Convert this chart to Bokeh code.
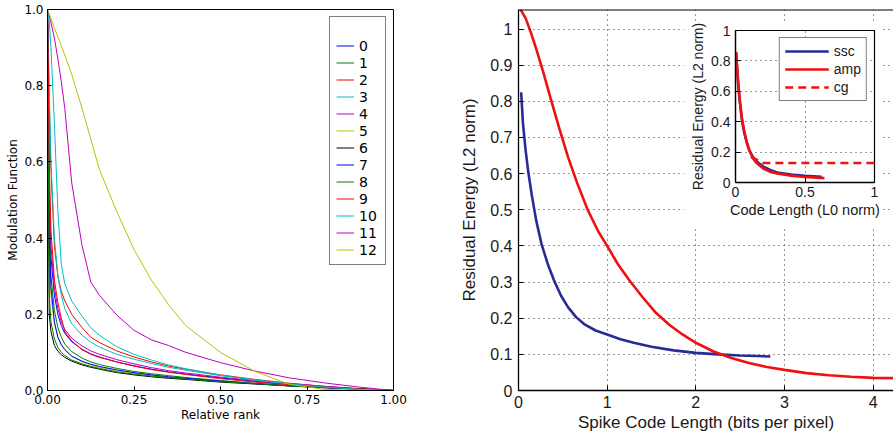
from bokeh.plotting import figure
from bokeh.models import Range1d, FixedTicker, Row, Span, PrintfTickFormatter
from bokeh.embed import file_html
from bokeh.resources import INLINE

# ---------------- left panel data ----------------
RANK_X = [0, 0.005, 0.01, 0.02, 0.03, 0.04, 0.05, 0.07, 0.1, 0.125, 0.15, 0.2,
          0.25, 0.3, 0.35, 0.4, 0.5, 0.6, 0.7, 0.8, 0.9, 1.0]
MOD_0 = [1.0, 0.5, 0.35, 0.25, 0.2, 0.17, 0.15, 0.128, 0.108, 0.096, 0.088, 0.075, 0.065, 0.056, 0.049, 0.043, 0.033, 0.024, 0.016, 0.01, 0.004, 0.0]
MOD_1 = [1.0, 0.45, 0.3, 0.21, 0.165, 0.14, 0.122, 0.102, 0.085, 0.075, 0.068, 0.058, 0.05, 0.044, 0.039, 0.034, 0.026, 0.019, 0.013, 0.008, 0.003, 0.0]
MOD_2 = [1.0, 0.75, 0.58, 0.38, 0.3, 0.26, 0.235, 0.2, 0.165, 0.14, 0.126, 0.104, 0.088, 0.075, 0.064, 0.056, 0.041, 0.029, 0.019, 0.011, 0.004, 0.0]
MOD_3 = [1.0, 0.8, 0.6, 0.4, 0.3, 0.25, 0.215, 0.175, 0.145, 0.127, 0.114, 0.095, 0.082, 0.071, 0.061, 0.053, 0.039, 0.028, 0.018, 0.01, 0.004, 0.0]
MOD_4 = [1.0, 0.55, 0.38, 0.27, 0.215, 0.18, 0.16, 0.137, 0.117, 0.104, 0.095, 0.081, 0.07, 0.06, 0.052, 0.046, 0.035, 0.026, 0.018, 0.011, 0.005, 0.0]
MOD_5 = [1.0, 0.35, 0.25, 0.175, 0.14, 0.12, 0.108, 0.09, 0.075, 0.067, 0.061, 0.052, 0.045, 0.04, 0.035, 0.031, 0.024, 0.018, 0.012, 0.007, 0.003, 0.0]
MOD_6 = [1.0, 0.2, 0.155, 0.118, 0.103, 0.094, 0.087, 0.077, 0.067, 0.061, 0.056, 0.047, 0.041, 0.036, 0.032, 0.029, 0.022, 0.017, 0.012, 0.008, 0.004, 0.0]
MOD_7 = [1.0, 0.4, 0.27, 0.18, 0.14, 0.12, 0.107, 0.09, 0.077, 0.069, 0.063, 0.054, 0.047, 0.041, 0.036, 0.032, 0.025, 0.018, 0.012, 0.007, 0.003, 0.0]
MOD_8 = [1.0, 0.25, 0.18, 0.135, 0.113, 0.1, 0.092, 0.08, 0.07, 0.063, 0.058, 0.049, 0.043, 0.038, 0.034, 0.03, 0.023, 0.018, 0.012, 0.008, 0.004, 0.0]
MOD_9 = [1.0, 0.6, 0.42, 0.29, 0.23, 0.19, 0.155, 0.13, 0.107, 0.095, 0.087, 0.075, 0.064, 0.055, 0.048, 0.042, 0.031, 0.022, 0.015, 0.009, 0.004, 0.0]
MOD_10 = [1.0, 0.97, 0.9, 0.7, 0.47, 0.33, 0.28, 0.235, 0.195, 0.165, 0.145, 0.115, 0.095, 0.08, 0.067, 0.057, 0.04, 0.027, 0.017, 0.009, 0.003, 0.0]
MOD_11 = [1.0, 0.985, 0.965, 0.925, 0.87, 0.81, 0.74, 0.545, 0.38, 0.285, 0.25, 0.198, 0.158, 0.133, 0.118, 0.1, 0.073, 0.051, 0.033, 0.02, 0.009, 0.0]
MOD_12 = [1.0, 0.988, 0.976, 0.952, 0.928, 0.905, 0.88, 0.83, 0.74, 0.66, 0.58, 0.47, 0.37, 0.29, 0.225, 0.17, 0.1, 0.05, 0.016, 0.003, 0.001, 0.0]
MOD_SERIES = [MOD_0, MOD_1, MOD_2, MOD_3, MOD_4, MOD_5, MOD_6, MOD_7, MOD_8,
              MOD_9, MOD_10, MOD_11, MOD_12]
MOD_LABELS = ["0", "1", "2", "3", "4", "5", "6", "7", "8", "9", "10", "11", "12"]
MOD_COLORS = ["#0000ff", "#008000", "#ff0000", "#00bfbf", "#bf00bf", "#bfbf00", "#000000",
              "#0000ff", "#008000", "#ff0000", "#00bfbf", "#bf00bf", "#bfbf00"]
REL_TICKS = [0, 0.25, 0.5, 0.75, 1.0]
MODF_TICKS = [0, 0.2, 0.4, 0.6, 0.8, 1.0]

# ---------------- right panel data ----------------
SSC_X = [0.03, 0.05, 0.08, 0.11, 0.15, 0.2, 0.26, 0.33, 0.4, 0.48, 0.56, 0.65, 0.75,
         0.87, 1.0, 1.15, 1.3, 1.5, 1.75, 2.0, 2.25, 2.5, 2.84]
SSC_Y = [0.825, 0.74, 0.665, 0.605, 0.54, 0.47, 0.405, 0.35, 0.305, 0.262, 0.23, 0.203,
         0.182, 0.166, 0.155, 0.142, 0.132, 0.121, 0.111, 0.104, 0.1, 0.097, 0.094]
AMP_X = [0.02, 0.08, 0.14, 0.2, 0.28, 0.36, 0.46, 0.56, 0.66, 0.78, 0.9, 1.0, 1.12,
         1.25, 1.4, 1.55, 1.7, 1.85, 2.0, 2.2, 2.4, 2.6, 2.8, 3.0, 3.25, 3.5, 3.75,
         4.0, 4.3]
AMP_Y = [1.055, 1.03, 0.99, 0.945, 0.88, 0.81, 0.725, 0.645, 0.575, 0.50, 0.44, 0.40,
         0.35, 0.305, 0.258, 0.215, 0.182, 0.155, 0.132, 0.108, 0.09, 0.076, 0.065,
         0.057, 0.048, 0.042, 0.038, 0.035, 0.034]
BPP_TICKS = [0, 1, 2, 3, 4]
RES_TICKS = [0, 0.1, 0.2, 0.3, 0.4, 0.5, 0.6, 0.7, 0.8, 0.9, 1.0]
BPP_MAX = 4.23
RES_MAX = 1.054

# ---------------- inset data ----------------
IN_X = [0.005, 0.01, 0.02, 0.03, 0.045, 0.06, 0.08, 0.1, 0.125, 0.15, 0.2, 0.25,
        0.3, 0.4, 0.5, 0.64]
IN_AMP = [0.86, 0.78, 0.65, 0.55, 0.43, 0.35, 0.27, 0.21, 0.16, 0.13, 0.092, 0.07,
          0.06, 0.045, 0.036, 0.029]
IN_SSC_X = [0.005, 0.01, 0.02, 0.03, 0.045, 0.06, 0.08, 0.1, 0.125, 0.15, 0.2, 0.25,
            0.3, 0.4, 0.5, 0.62]
IN_SSC = [0.85, 0.77, 0.64, 0.54, 0.42, 0.34, 0.265, 0.21, 0.168, 0.14, 0.105, 0.082,
          0.066, 0.052, 0.044, 0.038]
CG_X = [0.11, 0.14, 0.17, 0.2, 0.4, 0.6, 0.8, 1.0]
CG_Y = [0.168, 0.155, 0.142, 0.128, 0.128, 0.128, 0.128, 0.128]
L0_TICKS = [0, 0.5, 1.0]
IN_RES_TICKS = [0, 0.2, 0.4, 0.6, 0.8, 1.0]

# shared top / bottom borders (a Row aligns these across its children)
TOP_B = 9
BOT_B = 46

# ================= left figure =================
MPL_FONT = "DejaVu Sans"
left = figure(width=410, height=436, x_range=Range1d(0, 1), y_range=Range1d(0, 1),
              output_backend="svg", toolbar_location=None, title=None,
              min_border_left=47, min_border_right=17, min_border_top=TOP_B,
              min_border_bottom=BOT_B)
left.outline_line_color = "black"
left.outline_line_width = 1
left.grid.visible = False
for ys, lab, col in zip(MOD_SERIES, MOD_LABELS, MOD_COLORS):
    left.line(RANK_X, ys, line_color=col, line_width=1, legend_label=lab)

def mpl_axis(ax, ticks, fmt):
    ax.ticker = FixedTicker(ticks=ticks)
    ax.formatter = PrintfTickFormatter(format=fmt)
    ax.axis_line_color = "black"
    ax.major_tick_in = 4
    ax.major_tick_out = 0
    ax.minor_tick_in = 0
    ax.minor_tick_out = 0
    ax.major_tick_line_color = "black"
    ax.major_label_text_font = MPL_FONT
    ax.major_label_text_font_size = "12px"
    ax.major_label_text_color = "black"
    ax.major_label_standoff = 4
    ax.axis_label_text_font = MPL_FONT
    ax.axis_label_text_font_size = "12px"
    ax.axis_label_text_font_style = "normal"
    ax.axis_label_text_color = "black"
    ax.axis_label_standoff = 1

mpl_axis(left.xaxis[0], REL_TICKS, "%.2f")
mpl_axis(left.yaxis[0], MODF_TICKS, "%.1f")
left.xaxis[0].axis_label = "Relative rank"
left.yaxis[0].axis_label = "Modulation Function"
left.yaxis[0].axis_label_standoff = 1

lg = left.legend[0]
lg.location = "top_right"
lg.margin = 7
lg.padding = 6
lg.spacing = 0
lg.label_height = 17
lg.glyph_height = 17
lg.glyph_width = 18
lg.label_standoff = 5
lg.label_text_font = MPL_FONT
lg.label_text_font_size = "14px"
lg.label_text_color = "black"
lg.border_line_color = "black"
lg.border_line_width = 1
lg.title = " "
lg.title_text_font_size = "9px"
lg.title_standoff = 4

# ================= right main figure =================
ML_FONT = "Liberation Sans"
TXT = "#1a1a1a"
main = figure(width=483, height=436, x_range=Range1d(0, BPP_MAX), y_range=Range1d(0, RES_MAX),
              output_backend="svg", toolbar_location=None, title=None,
              min_border_left=108, min_border_right=0, min_border_top=TOP_B,
              min_border_bottom=BOT_B)
main.outline_line_color = None
main.add_layout(Span(location=RES_MAX, dimension="width", line_color="black",
                     line_width=2.2))

def ml_axis(ax, ticks, size, lsize, standoff):
    ax.ticker = FixedTicker(ticks=ticks)
    ax.axis_line_color = "black"
    ax.axis_line_width = 1.3
    ax.major_tick_in = 5
    ax.major_tick_out = 0
    ax.minor_tick_in = 0
    ax.minor_tick_out = 0
    ax.major_tick_line_color = "black"
    ax.major_label_text_font = ML_FONT
    ax.major_label_text_font_size = size
    ax.major_label_text_color = TXT
    ax.major_label_standoff = standoff
    ax.axis_label_text_font = ML_FONT
    ax.axis_label_text_font_size = lsize
    ax.axis_label_text_font_style = "normal"
    ax.axis_label_text_color = TXT
    ax.axis_label_standoff = 2

ml_axis(main.xaxis[0], BPP_TICKS, "16px", "17px", 5)
ml_axis(main.yaxis[0], RES_TICKS, "16px", "17px", 6)
main.yaxis[0].major_label_overrides = {0: "0", 1: "1"}
main.xaxis[0].axis_label = "Spike Code Length (bits per pixel)"
main.yaxis[0].axis_label = "Residual Energy (L2 norm)"
main.yaxis[0].axis_label_standoff = 8
for g in (main.xgrid[0], main.ygrid[0]):
    g.grid_line_color = "#333333"
    g.grid_line_dash = "1 4"
    g.grid_line_width = 1
main.xgrid[0].ticker = FixedTicker(ticks=BPP_TICKS)
main.ygrid[0].ticker = FixedTicker(ticks=RES_TICKS)
main.line(SSC_X, SSC_Y, line_color="#2a2a96", line_width=2.6)
main.line(AMP_X, AMP_Y, line_color="#f01010", line_width=2.6)

# ================= inset figure =================
inset = figure(width=199, height=TOP_B + 152 + BOT_B, x_range=Range1d(0, 1),
               y_range=Range1d(0, 1),
               output_backend="svg", toolbar_location=None, title=None,
               min_border_left=52, min_border_right=8, min_border_top=TOP_B,
               min_border_bottom=BOT_B,
               styles={"position": "absolute", "left": "683px", "top": "21px"})
inset.outline_line_color = "black"
inset.outline_line_width = 1.2
inset.border_fill_color = "white"
ml_axis(inset.xaxis[0], L0_TICKS, "14px", "14.5px", 4)
ml_axis(inset.yaxis[0], IN_RES_TICKS, "14px", "14px", 5)
inset.xaxis[0].major_label_overrides = {0: "0", 0.5: "0.5", 1: "1"}
inset.yaxis[0].major_label_overrides = {0: "0", 1: "1"}
inset.xaxis[0].axis_label = "Code Length (L0 norm)"
inset.yaxis[0].axis_label = "Residual Energy (L2 norm)"
for g in (inset.xgrid[0], inset.ygrid[0]):
    g.grid_line_color = "#333333"
    g.grid_line_dash = "1 4"
    g.grid_line_width = 1
inset.xgrid[0].ticker = FixedTicker(ticks=L0_TICKS)
inset.ygrid[0].ticker = FixedTicker(ticks=IN_RES_TICKS)
inset.line(IN_SSC_X, IN_SSC, line_color="#2a2a96", line_width=2.6, legend_label="ssc")
inset.line(IN_X, IN_AMP, line_color="#f01010", line_width=2.6, legend_label="amp")
inset.line(CG_X, CG_Y, line_color="#f01010", line_width=2.4, line_dash="8 5",
           legend_label="cg")
ilg = inset.legend[0]
ilg.location = "top_right"
ilg.margin = 7
ilg.padding = 5
ilg.spacing = 2
ilg.label_height = 16
ilg.glyph_height = 16
ilg.glyph_width = 44
ilg.label_standoff = 5
ilg.label_text_font = ML_FONT
ilg.label_text_font_size = "14px"
ilg.label_text_color = TXT
ilg.border_line_color = "black"
ilg.border_line_width = 1.2

page = Row(children=[left, main, inset])
open("out.html", "w").write(file_html(page, INLINE))
